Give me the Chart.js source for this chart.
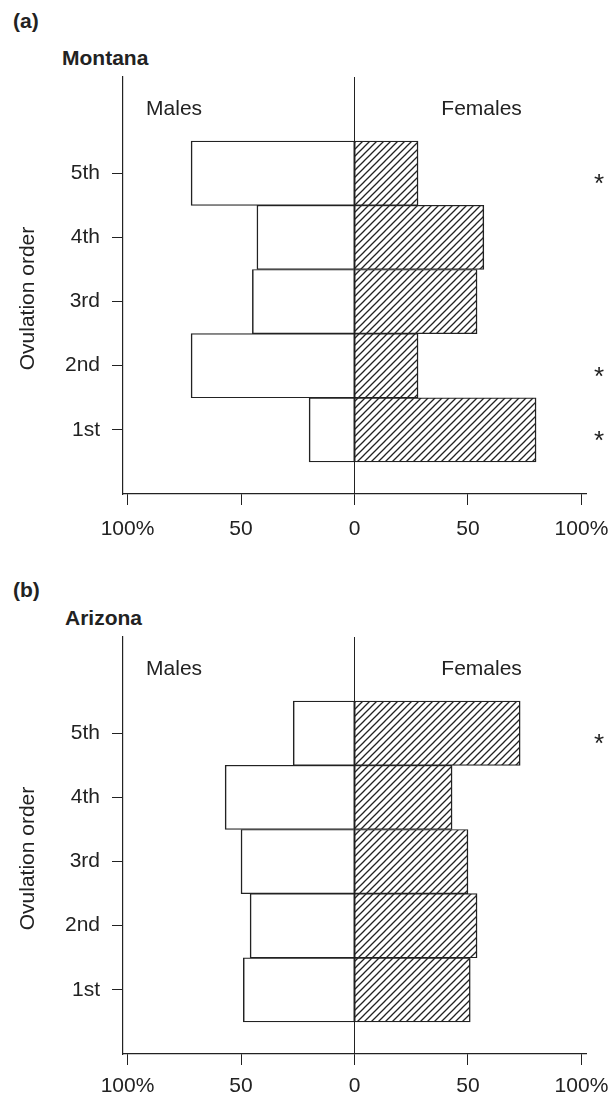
<!DOCTYPE html>
<html>
<head>
<meta charset="utf-8">
<script src="https://cdn.jsdelivr.net/npm/chart.js@4.4.1/dist/chart.umd.min.js"></script>
<style>
  body { margin: 0; background: #fff; }
  #page { position: relative; width: 610px; height: 1094px; font-family: 'Liberation Sans', Arial, sans-serif; color: #222; }
  .tag { position: absolute; font-weight: bold; font-size: 21px; line-height: 24px; }
  canvas { position: absolute; left: 0; }
</style>
</head>
<body>
<div id="page">
  <div class="tag" style="left:13px; top:9px">(a)</div>
  <div class="tag" style="left:62px; top:46px">Montana</div>
  <canvas id="montana" width="610" height="560" style="top:0"></canvas>
  <div class="tag" style="left:13px; top:578px">(b)</div>
  <div class="tag" style="left:65px; top:606px">Arizona</div>
  <canvas id="arizona" width="610" height="534" style="top:560px"></canvas>
</div>
<script>
// ovulation order, bottom to top
const orderLabels = ['1st', '2nd', '3rd', '4th', '5th'];
const orderPos = [1, 2, 3, 4, 5];
const xTicks = [-100, -50, 0, 50, 100];
const xTickLabels = ['100%', '50', '0', '50', '100%'];

// percent of each sex per ovulation order
const montanaMales = [20, 72, 45, 43, 72];
const montanaFemales = [80, 28, 54, 57, 28];
const montanaStars = ['*', '*', '', '', '*'];

const arizonaMales = [49, 46, 50, 57, 27];
const arizonaFemales = [51, 54, 50, 43, 73];
const arizonaStars = ['', '', '', '', '*'];

const ink = '#222';
const font = '"Liberation Sans", Arial, sans-serif';
Chart.defaults.font.family = font;
Chart.defaults.font.size = 21;
Chart.defaults.color = ink;

function hatch() {
  const c = document.createElement('canvas');
  c.width = 7; c.height = 7;
  const g = c.getContext('2d');
  g.fillStyle = '#fff';
  g.fillRect(0, 0, 7, 7);
  g.strokeStyle = ink;
  g.lineWidth = 1.3;
  g.beginPath();
  g.moveTo(-1, 8); g.lineTo(8, -1);
  g.moveTo(-1, 1); g.lineTo(1, -1);
  g.moveTo(6, 8); g.lineTo(8, 6);
  g.stroke();
  return g.createPattern(c, 'repeat');
}

// side labels, significance stars and rotated y title
const panelText = {
  id: 'panelText',
  afterDraw(chart, args, opts) {
    const { ctx, chartArea, scales: { x, y } } = chart;
    ctx.save();
    ctx.fillStyle = ink;
    ctx.font = '21px ' + font;
    ctx.textAlign = 'center';
    ctx.textBaseline = 'middle';
    ctx.fillText('Males', x.getPixelForValue(-79.5), y.getPixelForValue(6));
    ctx.fillText('Females', x.getPixelForValue(56), y.getPixelForValue(6));
    ctx.translate(28, (chartArea.top + chartArea.bottom) / 2 + 13);
    ctx.rotate(-Math.PI / 2);
    ctx.fillText('Ovulation order', 0, 0);
    ctx.restore();

    ctx.save();
    ctx.fillStyle = ink;
    ctx.font = '26px ' + font;
    ctx.textAlign = 'center';
    ctx.textBaseline = 'middle';
    opts.stars.forEach((s, i) => {
      if (s) ctx.fillText(s, chartArea.right + 13, y.getPixelForValue(orderPos[i]) + 12);
    });
    ctx.restore();
  }
};

function makePanel(id, males, females, stars, labelPad) {
  const canvas = document.getElementById(id);
  return new Chart(canvas, {
    type: 'bar',
    data: {
      datasets: [{
        label: 'Males',
        data: orderPos.map((p, i) => ({ x: -males[i], y: p })),
        backgroundColor: '#fff',
        borderColor: ink,
        borderWidth: { top: 1.2, bottom: 1.2, left: 1.5, right: 0.8 },
        borderSkipped: false,
      }, {
        label: 'Females',
        data: orderPos.map((p, i) => ({ x: females[i], y: p })),
        backgroundColor: hatch(),
        borderColor: ink,
        borderWidth: { top: 1.2, bottom: 1.2, left: 0.8, right: 1.5 },
        borderSkipped: false,
      }]
    },
    options: {
      indexAxis: 'y',
      responsive: false,
      animation: false,
      barPercentage: 1,
      categoryPercentage: 1,
      layout: { padding: { top: 77, right: 24, left: 0, bottom: 0 } },
      plugins: {
        legend: { display: false },
        tooltip: { enabled: false },
        panelText: { stars }
      },
      scales: {
        x: {
          type: 'linear',
          stacked: true,
          min: -102,
          max: 102,
          afterBuildTicks: (axis) => { axis.ticks = xTicks.map(v => ({ value: v })); },
          afterFit: (axis) => {
            axis.height = canvas.height - 494;
            axis.paddingLeft = 0;
            axis.paddingRight = 0;
          },
          ticks: {
            padding: labelPad,
            maxRotation: 0,
            autoSkip: false,
            callback: (v) => xTickLabels[xTicks.indexOf(v)]
          },
          grid: {
            color: (c) => (c.tick && c.tick.value === 0 ? ink : 'rgba(0,0,0,0)'),
            tickColor: ink,
            tickLength: 11,
            lineWidth: 1
          },
          border: { color: ink, width: 1.2 }
        },
        y: {
          type: 'linear',
          stacked: true,
          offset: false,
          min: 0,
          max: 6.5,
          afterBuildTicks: (axis) => { axis.ticks = orderPos.map(v => ({ value: v })); },
          afterFit: (axis) => { axis.width = 123; },
          ticks: {
            padding: 12,
            autoSkip: false,
            callback: (v) => orderLabels[orderPos.indexOf(v)]
          },
          grid: { offset: false, drawOnChartArea: false, tickColor: ink, tickLength: 11 },
          border: { color: ink, width: 1.2 }
        }
      }
    },
    plugins: [panelText]
  });
}

makePanel('montana', montanaMales, montanaFemales, montanaStars, 12);
makePanel('arizona', arizonaMales, arizonaFemales, arizonaStars, 9);
</script>
</body>
</html>
